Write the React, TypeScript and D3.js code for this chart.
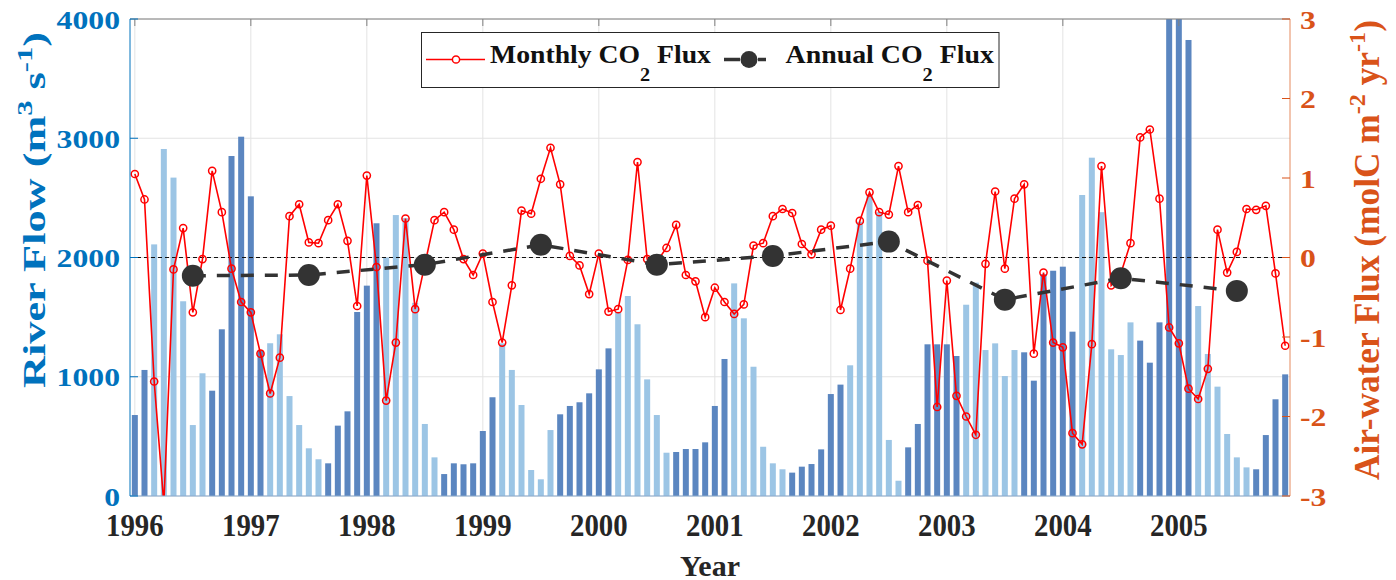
import React from 'react';
import { scaleLinear, line } from 'd3';

// monthly river flow, Jan 1996 .. Dec 2005 (m3/s)
const RIVER_FLOW = [
  679, 1057, 2110, 2910, 2670, 1633, 595, 1029, 883, 1398, 2851, 3013,
  2513, 1220, 1281, 1356, 838, 595, 400, 308, 274, 590, 710, 1543,
  1764, 2287, 2000, 2356, 2330, 1620, 604, 324, 184, 274, 266, 274,
  545, 828, 1280, 1057, 763, 218, 140, 553, 685, 755, 786, 861,
  1062, 1238, 1545, 1677, 1440, 978, 679, 363, 369, 394, 394, 450,
  755, 1149, 1783, 1490, 1084, 413, 274, 224, 196, 246, 268, 391,
  855, 934, 1096, 2300, 2524, 2380, 470, 128, 408, 604, 1272, 1272,
  1272, 1174, 1604, 1789, 1224, 1280, 1006, 1224, 1205, 967, 1860, 1889,
  1923, 1378, 2524, 2837, 2380, 1230, 1182, 1456, 1303, 1118, 1456, 4300,
  4300, 3824, 1593, 1191, 917, 520, 324, 240, 224, 511, 811, 1020,
];

// monthly air-water CO2 flux (molC m-2 yr-1)
const MONTHLY_FLUX = [
  1.05, 0.73, -1.56, -3.1, -0.15, 0.37, -0.69, -0.02, 1.09, 0.57, -0.14, -0.56,
  -0.69, -1.21, -1.71, -1.26, 0.52, 0.67, 0.19, 0.18, 0.47, 0.67, 0.21, -0.61,
  1.03, -0.12, -1.8, -1.07, 0.49, -0.65, -0.09, 0.47, 0.57, 0.35, -0.02, -0.22,
  0.05, -0.56, -1.07, -0.35, 0.59, 0.55, 0.99, 1.38, 0.92, 0.02, -0.1, -0.46,
  0.05, -0.68, -0.65, -0.03, 1.2, -0.02, -0.05, 0.12, 0.41, -0.22, -0.3, -0.75,
  -0.38, -0.56, -0.71, -0.59, 0.15, 0.18, 0.52, 0.61, 0.56, 0.17, 0.04, 0.35,
  0.4, -0.66, -0.14, 0.46, 0.82, 0.57, 0.54, 1.15, 0.57, 0.66, -0.04, -1.88,
  -0.29, -1.74, -2.0, -2.23, -0.08, 0.83, -0.14, 0.74, 0.92, -1.21, -0.19, -1.07,
  -1.13, -2.21, -2.35, -1.09, 1.15, -0.35, -0.2, 0.18, 1.51, 1.61, 0.74, -0.88,
  -1.08, -1.65, -1.78, -1.4, 0.35, -0.19, 0.07, 0.61, 0.6, 0.65, -0.2, -1.11,
];

const ANNUAL_FLUX = [-0.23, -0.22, -0.09, 0.16, -0.09, 0.02, 0.2, -0.53, -0.26, -0.42];
const YEARS = ['1996', '1997', '1998', '1999', '2000', '2001', '2002', '2003', '2004', '2005'];
const FLOW_TICKS = [0, 1000, 2000, 3000, 4000];
const FLUX_TICKS = [-3, -2, -1, 0, 1, 2, 3];

const W = 1396;
const H = 580;
const L = 130;
const R = 1290;
const T = 19;
const B = 496;

const BLUE = '#0072BD';
const ORANGE = '#D95319';
const DARK_BAR = '#5b86c0';
const LIGHT_BAR = '#9cc5e5';
const FONT = '"Liberation Serif", "Times New Roman", serif';

// dry season months (Sep..Feb) get the dark bar
const isDark = (i: number) => {
  const m = i % 12;
  return m >= 8 || m <= 1;
};

export default function App() {
  const x = scaleLinear().domain([-0.5, 119.5]).range([L, R]);
  const yL = scaleLinear().domain([0, 4000]).range([B, T]);
  const yR = scaleLinear().domain([-3, 3]).range([B, T]);

  const monthlyPath = line<number>()
    .x((_, i) => x(i))
    .y((d) => yR(d))(MONTHLY_FLUX);
  const annualPath = line<number>()
    .x((_, i) => x(i * 12 + 6))
    .y((d) => yR(d))(ANNUAL_FLUX);

  const barW = 6;

  return (
    <svg
      width={W}
      height={H}
      style={{ display: 'block', position: 'absolute', left: 0, top: 0 }}
      fontFamily={FONT}
      fontWeight="bold"
    >
      <defs>
        <clipPath id="plot">
          <rect x={L} y={T} width={R - L} height={B - T} />
        </clipPath>
      </defs>
      <rect x={0} y={0} width={W} height={H} fill="#fff" />

      {/* grid */}
      <g stroke="#e3e3e3" strokeWidth={1}>
        {YEARS.map((yr, k) => (
          <line key={yr} x1={x(k * 12)} x2={x(k * 12)} y1={T} y2={B} />
        ))}
        {FLOW_TICKS.map((t) => (
          <line key={t} x1={L} x2={R} y1={yL(t)} y2={yL(t)} />
        ))}
      </g>

      {/* bars */}
      <g clipPath="url(#plot)">
        {RIVER_FLOW.map((v, i) => (
          <rect
            key={i}
            x={x(i) - barW / 2}
            y={yL(v)}
            width={barW}
            height={B - yL(v)}
            fill={isDark(i) ? DARK_BAR : LIGHT_BAR}
          />
        ))}
      </g>

      {/* zero line */}
      <line x1={L} x2={R} y1={yR(0)} y2={yR(0)} stroke="#111" strokeWidth={1.2} strokeDasharray="4,3" />

      {/* monthly flux */}
      <g clipPath="url(#plot)">
        <path d={monthlyPath || ''} fill="none" stroke="#ff0000" strokeWidth={1.6} />
        {MONTHLY_FLUX.map((v, i) => (
          <circle key={i} cx={x(i)} cy={yR(v)} r={3.6} fill="none" stroke="#ff0000" strokeWidth={1.5} />
        ))}
      </g>

      {/* annual flux */}
      <path d={annualPath || ''} fill="none" stroke="#333" strokeWidth={3.5} strokeDasharray="13,11" />
      {ANNUAL_FLUX.map((v, k) => (
        <circle key={k} cx={x(k * 12 + 6)} cy={yR(v)} r={11} fill="#333" />
      ))}

      {/* frame */}
      <line x1={L} x2={R} y1={T} y2={T} stroke="#808080" strokeWidth={1} />
      <line x1={L} x2={R} y1={B} y2={B} stroke="#8aa9cc" strokeWidth={1} />
      <g stroke="#808080">
        {YEARS.map((yr, k) => (
          <line key={yr} x1={x(k * 12)} x2={x(k * 12)} y1={T} y2={T + 7} />
        ))}
      </g>
      <line x1={L} x2={L} y1={T} y2={B} stroke={BLUE} strokeWidth={1} />
      <g stroke={BLUE}>
        {FLOW_TICKS.map((t) => (
          <line key={t} x1={L} x2={L + 8} y1={yL(t)} y2={yL(t)} />
        ))}
      </g>
      <line x1={R} x2={R} y1={T} y2={B} stroke="#e58a5e" strokeWidth={1} />
      <g stroke={ORANGE}>
        {FLUX_TICKS.map((t) => (
          <line key={t} x1={R - 8} x2={R} y1={yR(t)} y2={yR(t)} />
        ))}
      </g>

      {/* left ticks */}
      {FLOW_TICKS.map((t) => (
        <g key={t} transform={`translate(120,${yL(t) + 9.5}) scale(1.22,1)`}>
          <text textAnchor="end" fontSize={26} fill={BLUE}>{t}</text>
        </g>
      ))}
      {/* right ticks */}
      {FLUX_TICKS.map((t) => (
        <g key={t} transform={`translate(1300,${yR(t) + 9.5}) scale(1.22,1)`}>
          <text textAnchor="start" fontSize={26} fill={ORANGE}>{t}</text>
        </g>
      ))}
      {/* x ticks */}
      {YEARS.map((yr, k) => (
        <g key={yr} transform={`translate(${x(k * 12)},535.5) scale(0.93,1)`}>
          <text textAnchor="middle" fontSize={31} fill="#262626">{yr}</text>
        </g>
      ))}
      <text x={(L + R) / 2} y={575.5} textAnchor="middle" fontSize={30} fill="#262626">Year</text>

      {/* axis titles */}
      <g transform="translate(45,388) rotate(-90)">
        <text x={0} y={0} fontSize={32} fill={BLUE} textLength={356} lengthAdjust="spacingAndGlyphs">
          River Flow (m<tspan fontSize={22} dy={-13}>3</tspan>
          <tspan dy={13}> s</tspan>
          <tspan fontSize={22} dy={-13}>-1</tspan>
          <tspan dy={13}>)</tspan>
        </text>
      </g>
      <g transform="translate(1379,480) rotate(-90)">
        <text x={0} y={0} fontSize={35} fill={ORANGE} textLength={460} lengthAdjust="spacingAndGlyphs">
          Air-water Flux (molC m<tspan fontSize={24} dy={-14}>-2</tspan>
          <tspan dy={14}> yr</tspan>
          <tspan fontSize={24} dy={-14}>-1</tspan>
          <tspan dy={14}>)</tspan>
        </text>
      </g>

      {/* legend */}
      <rect x={421.5} y={32.5} width={577.5} height={55} fill="#fff" stroke="#262626" strokeWidth={1} />
      <line x1={426} x2={485} y1={59.5} y2={59.5} stroke="#ff0000" strokeWidth={1.6} />
      <circle cx={456} cy={59.5} r={3.6} fill="#fff" stroke="#ff0000" strokeWidth={1.5} />
      <text x={490} y={63} fontSize={26} fill="#111" textLength={221} lengthAdjust="spacingAndGlyphs">
        Monthly CO<tspan fontSize={19} dy={18}>2</tspan>
        <tspan dy={-18}> Flux</tspan>
      </text>
      <line x1={724} x2={740} y1={59.5} y2={59.5} stroke="#333" strokeWidth={3.5} />
      <line x1={758} x2={766} y1={59.5} y2={59.5} stroke="#333" strokeWidth={3.5} />
      <circle cx={749} cy={59.5} r={8.5} fill="#333" />
      <text x={785.5} y={63} fontSize={26} fill="#111" textLength={208.5} lengthAdjust="spacingAndGlyphs">
        Annual CO<tspan fontSize={19} dy={18}>2</tspan>
        <tspan dy={-18}> Flux</tspan>
      </text>
    </svg>
  );
}
